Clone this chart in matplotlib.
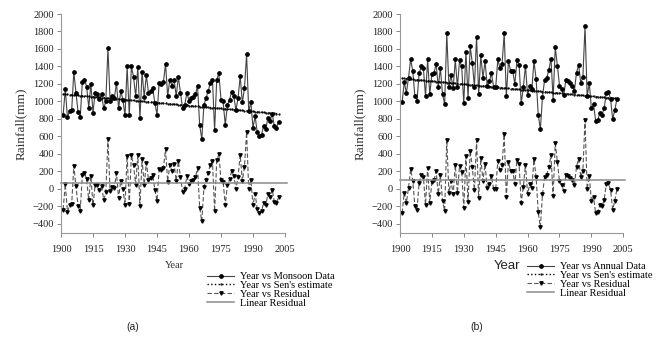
import numpy as np
import matplotlib.pyplot as plt

plt.rcParams['font.family'] = ['Liberation Serif', 'DejaVu Serif']

years = np.arange(1901, 2003)

# (a) monsoon rainfall, mm
monsoon = [
    850, 1140, 820, 890, 900, 1340, 1100, 880, 820, 1220,
    1250, 1170, 930, 1200, 870, 1100, 1090, 1030, 1080, 920,
    1000, 1610, 1010, 1060, 1040, 1210, 920, 1120, 1020, 840,
    1400, 840, 1400, 1280, 1060, 1390, 810, 1340, 1050, 1300,
    1100, 1120, 1150, 980, 850, 1210, 1200, 1220, 1430, 1060,
    1250, 1180, 1250, 1060, 1280, 1100, 920, 960, 1100, 1010,
    1040, 1050, 1080, 1180, 730, 570, 960, 1040, 1120, 1210,
    1250, 670, 1250, 1320, 1020, 1000, 730, 960, 1020, 1110,
    1060, 900, 1040, 1290, 990, 1150, 1540, 890, 990, 700,
    830, 650, 610, 620, 720, 690, 810, 780, 860, 720,
    700, 770,
]

# (b) annual rainfall, mm
annual = [
    990, 1220, 1100, 1270, 1480, 1350, 1060, 1010, 1320, 1400,
    1380, 1060, 1480, 1080, 1310, 1330, 1430, 1170, 1380, 1080,
    970, 1780, 1170, 1300, 1150, 1480, 1160, 1470, 1400, 980,
    1570, 1040, 1630, 1440, 1170, 1740, 1080, 1530, 1270, 1460,
    1180, 1230, 1320, 1170, 1160, 1480, 1380, 1430, 1780, 1060,
    1460, 1350, 1350, 1200, 1470, 1420, 980, 1160, 1410, 1070,
    1180, 1140, 1460, 1260, 850, 680, 1050, 1250, 1270, 1360,
    1490, 1020, 1620, 1410, 1180, 1140, 1070, 1250, 1230, 1210,
    1180, 1120, 1330, 1420, 1210, 1280, 1860, 1060, 1210, 920,
    970, 780, 790, 870, 850, 920, 1100, 1110, 1030, 800,
    900, 1030,
]

# Sen's slope estimate: value at 1901 and slope (mm/year)
sens_a = (1085, -2.23)
sens_b = (1265, -2.30)

# linear trend of residuals (flat level) and span it is drawn over
resid_level_a = 64
resid_level_b = 98
resid_span = [1900, 2006]

xticks = [1900, 1915, 1930, 1945, 1960, 1975, 1990, 2005]
yticks = list(range(-400, 2001, 200))


def draw_panel(ax, data, sens, resid_level, data_label):
    data = np.array(data, dtype=float)
    trend = sens[0] + sens[1] * (years - years[0])
    resid = data - trend

    l1, = ax.plot(years, data, color='#444444', lw=0.8, marker='o', ms=2.4,
                  mfc='black', mec='black', label=data_label)
    l2, = ax.plot(years, trend, color='black', lw=1.0, ls=':', marker='.',
                  ms=1.2, label="Year vs Sen's estimate")
    l3, = ax.plot(years, resid, color='#555555', lw=0.8, ls=(0, (4, 2)),
                  marker='v', ms=2.4, mfc='black', mec='black',
                  label='Year vs Residual')
    l4, = ax.plot(resid_span, [resid_level, resid_level], color='#8a8a8a',
                  lw=1.1, clip_on=False, label='Linear Residual')

    ax.set_xlim(1900, 2005)
    ax.set_ylim(-500, 2000)
    ax.set_xticks(xticks)
    ax.set_yticks(yticks)
    ax.tick_params(direction='out', length=3, width=0.7, colors='#888888',
                   labelcolor='#222222', labelsize=7.5, pad=2)
    ax.tick_params(axis='x', pad=6)
    for s in ['top', 'right']:
        ax.spines[s].set_visible(False)
    for s in ['left', 'bottom']:
        ax.spines[s].set_color('#999999')
        ax.spines[s].set_linewidth(0.8)
    ax.set_ylabel('Rainfall(mm)', fontsize=9.5, color='#333333', labelpad=4)
    return [l1, l2, l3, l4]


fig = plt.figure(figsize=(6.64, 3.39), dpi=100)
ax_a = fig.add_axes([0.0919, 0.3136, 0.3373, 0.6451])
ax_b = fig.add_axes([0.6024, 0.3136, 0.3363, 0.6451])

h_a = draw_panel(ax_a, monsoon, sens_a, resid_level_a, 'Year vs Monsoon Data')
h_b = draw_panel(ax_b, annual, sens_b, resid_level_b, 'Year vs Annual Data')

leg_kw = dict(frameon=False, fontsize=7.5, handlelength=2.6, handletextpad=0.6,
              labelspacing=-0.05, borderpad=0, borderaxespad=0, numpoints=1,
              loc='upper left')
ax_a.legend(handles=h_a, bbox_to_anchor=(207 / 664, 1 - 272 / 339),
            bbox_transform=fig.transFigure, **leg_kw)
ax_b.legend(handles=h_b, bbox_to_anchor=(527 / 664, 1 - 262 / 339),
            bbox_transform=fig.transFigure, **leg_kw)

fig.text(174 / 664, 1 - 266 / 339, 'Year', fontsize=7.5, color='#333333',
         ha='center', va='center')
fig.text(507 / 664, 1 - 266 / 339, 'Year', fontsize=9.5, color='#222222',
         ha='center', va='center', family='Liberation Sans')
fig.text(133 / 664, 1 - 327 / 339, '(a)', fontsize=7.5, color='#222222',
         ha='center', va='center', family='Liberation Sans')
fig.text(477 / 664, 1 - 327 / 339, '(b)', fontsize=7.5, color='#222222',
         ha='center', va='center', family='Liberation Sans')

fig.savefig('out.png', dpi=100)
